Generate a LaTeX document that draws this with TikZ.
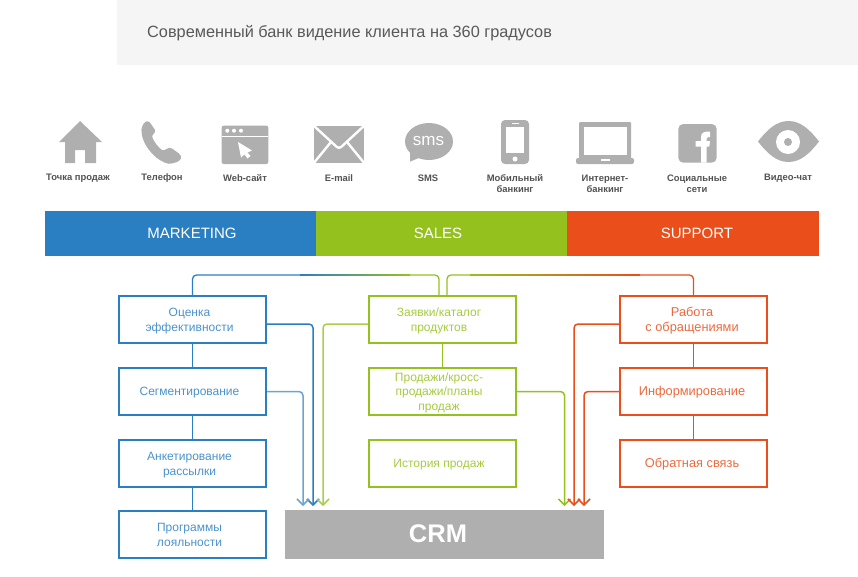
\documentclass[tikz,border=0pt]{standalone}
\usepackage{fontspec}
\setmainfont{Liberation Sans}
\usetikzlibrary{arrows.meta}
\definecolor{cblue}{HTML}{2A7FC2}
\definecolor{cgreen}{HTML}{95C11F}
\definecolor{corange}{HTML}{E94E1B}
\definecolor{cgrey}{HTML}{AFAFAF}
\definecolor{cband}{HTML}{F5F5F5}
\newcommand{\boxtext}[2]{\kern#1\raisebox{-1.5pt}[\height][\depth]{\begin{tabular}{@{}c@{}}#2\end{tabular}}}
\tikzset{
  box/.style={draw=#1,text=#1!85!white,line width=2pt,minimum width=147pt,minimum height=47pt,inner sep=0pt,font=\fontsize{12}{14.8}\selectfont},
  bigbox/.style={box=#1,font=\fontsize{12.8}{14.8}\selectfont},
  bar/.style={fill=#1,text=white,minimum height=45pt,inner sep=0pt,font=\fontsize{15}{18}\selectfont},
  iconcap/.style={text=black!68,inner sep=0pt,align=center,font=\fontsize{9.4}{11}\selectfont\bfseries},
  link/.style={draw=#1,line width=1.4pt},
  into/.style={draw=#1,line width=1.5pt,rounded corners=4pt,-{Straight Barb[length=6pt,width=12pt]}},
  over/.style={draw=#1,line width=1.3pt,rounded corners=4pt}
}
\begin{document}
\begin{tikzpicture}[x=1pt,y=-1pt]
\useasboundingbox (0,0) rectangle (858,576) ;
\fill[cband] (117,0) rectangle (858,65) ;
\node[anchor=west,text=black!65,inner sep=0pt,font=\fontsize{16.3}{18}\selectfont] (title) at (147,33) {Современный банк видение клиента на 360 градусов} ;
\fill[cgrey] (80,121) -- (102,142) -- (96,142) -- (96,163) -- (85,163) -- (85,150) -- (75,150) -- (75,163) -- (65,163) -- (65,142) -- (59,142) -- cycle ;
\fill[cgrey,rounded corners=1.5pt] (144.3,122.3) -- (148.3,120.7) -- (151.7,125) -- (155.7,131) -- (154.3,133.3) -- (151.7,135.7) .. controls (154,142) and (158,147) .. (163.3,151) -- (167.3,148.3) -- (171,147.7) -- (180,154.3) -- (181.7,157.7) -- (178.3,161.7) -- (170,164) .. controls (158,162) and (141,146) .. (141.5,128) -- cycle ;
\fill[cgrey,rounded corners=2pt] (221.7,125.7) rectangle (268.3,164) ;
\draw[white,line width=1pt] (221.7,136) -- (268.3,136) ;
\foreach \dotx in {227.3,234,241} { \fill[white] (\dotx,130.7) circle (2) ; }
\fill[white] (238,142) -- (252,150.5) -- (247.5,152.5) -- (250.5,156) -- (247.5,158.5) -- (244.5,154.5) -- (241,157.5) -- cycle ;
\fill[cgrey] (314,126) rectangle (364,163) ;
\draw[white,line width=2.4pt,rounded corners=3pt] (313,125) -- (339,149) -- (365,125) ;
\draw[white,line width=2.4pt] (313,164) -- (331,142) (365,164) -- (347,142) ;
\fill[cgrey] (429,141.5) ellipse (24 and 18.5) ;
\fill[cgrey] (410,152) -- (410,161.7) -- (421,157) -- cycle ;
\node[text=white,inner sep=0pt,font=\fontsize{17}{18}\selectfont] (smsword) at (428.5,141) {sms} ;
\fill[cgrey,rounded corners=4pt] (501,120) rectangle (529,164) ;
\fill[white] (506,127) rectangle (524,153) ;
\fill[white] (515,159) circle (2.5) ;
\draw[white,line width=.8pt] (512,123.3) -- (519,123.3) ;
\fill[cgrey,rounded corners=1pt] (579,122) rectangle (631,159) ;
\fill[white] (584,127) rectangle (627,155) ;
\fill[cgrey,rounded corners=2pt] (576,158) rectangle (634,164) ;
\fill[white] (601,159) rectangle (610,160.5) ;
\fill[cgrey,rounded corners=5pt] (678.3,124) rectangle (716.7,162.7) ;
\fill[white] (701,162.7) -- (701,146.5) -- (695.5,146.5) -- (695.5,141) -- (701,141) -- (701,137) .. controls (701,133) and (704,131.5) .. (708,131.5) -- (710,131.5) -- (710,137) -- (708,137) .. controls (707,137) and (706.7,137.5) .. (706.7,138.5) -- (706.7,141) -- (710,141) -- (709.3,146.5) -- (706.7,146.5) -- (706.7,162.7) -- cycle ;
\fill[cgrey] (758,141.5) .. controls (767,130) and (776,121) .. (788.5,121) .. controls (801,121) and (810,130) .. (819,141.5) .. controls (810,153) and (801,162) .. (788.5,162) .. controls (776,162) and (767,153) .. (758,141.5) -- cycle ;
\fill[white] (788,142) circle (12) ;
\fill[cgrey] (788,142) circle (4) ;
\node[iconcap] (c1) at (78,178) {Точка продаж} ;
\node[iconcap] (c2) at (162,178) {Телефон} ;
\node[iconcap] (c3) at (245,178) {Web-сайт} ;
\node[iconcap] (c4) at (339,178) {E-mail} ;
\node[iconcap] (c5) at (428,178) {SMS} ;
\node[iconcap] (c6) at (515,183.5) {Мобильный\\банкинг} ;
\node[iconcap] (c7) at (605,183.5) {Интернет-\\банкинг} ;
\node[iconcap] (c8) at (697,183.5) {Социальные\\сети} ;
\node[iconcap] (c9) at (788,178) {Видео-чат} ;
\node[bar=cblue,minimum width=271pt] (mark) at (180.5,233.5) {\boxtext{23pt}{MARKETING}} ;
\node[bar=cgreen,minimum width=251pt] (sale) at (441.5,233.5) {\boxtext{-7pt}{SALES}} ;
\node[bar=corange,minimum width=252pt] (supp) at (693,233.5) {\boxtext{8pt}{SUPPORT}} ;
\node[box=cblue] (b1) at (192.5,319.5) {\boxtext{-6pt}{Оценка\\эффективности}} ;
\node[box=cblue] (b2) at (192.5,391.5) {\boxtext{-6pt}{Сегментирование}} ;
\node[box=cblue] (b3) at (192.5,463.5) {\boxtext{-6pt}{Анкетирование\\рассылки}} ;
\node[box=cblue] (b4) at (192.5,534.5) {\boxtext{-6pt}{Программы\\лояльности}} ;
\node[box=cgreen] (g1) at (442.5,319.5) {\boxtext{-7pt}{Заявки/каталог\\продуктов}} ;
\node[box=cgreen] (g2) at (442.5,391.5) {\boxtext{-7pt}{Продажи/кросс-\\продажи/планы\\продаж}} ;
\node[box=cgreen] (g3) at (442.5,463.5) {\boxtext{-7pt}{История продаж}} ;
\node[bigbox=corange] (r1) at (693.5,319.5) {\boxtext{-3pt}{Работа\\с обращениями}} ;
\node[bigbox=corange] (r2) at (693.5,391.5) {\boxtext{-3pt}{Информирование}} ;
\node[bigbox=corange] (r3) at (693.5,463.5) {\boxtext{-3pt}{Обратная связь}} ;
\node[fill=cgrey,text=white,minimum width=319pt,minimum height=49pt,inner sep=0pt,font=\fontsize{25.5}{30}\selectfont\bfseries] (crm) at (444.5,534.5) {\boxtext{-13pt}{CRM}} ;
\coordinate (t1) at (303,506) ;
\coordinate (t2) at (313,506) ;
\coordinate (t3) at (323,506) ;
\coordinate (t4) at (564.5,506) ;
\coordinate (t5) at (574,506) ;
\coordinate (t6) at (584,506) ;
\coordinate (m1) at (300,275) ;
\coordinate (m2) at (410,275) ;
\coordinate (m3) at (470,275) ;
\coordinate (m4) at (640,275) ;
\draw[link=cblue,line width=1.8pt] (b1) to (b2) ;
\draw[link=cblue,line width=1.8pt] (b2) to (b3) ;
\draw[link=cblue,line width=1.8pt] (b3) to (b4) ;
\draw[link=cgreen,line width=1.2pt] (g1) to (g2) ;
\draw[link=corange,line width=1.2pt] (r1) to (r2) ;
\draw[link=corange,line width=1.2pt] (r2) to (r3) ;
\draw[into=cblue] ([yshift=-4.5pt]b1.east) -| (t2) ;
\draw[into=cblue!70!white] (b2.east) -| (t1) ;
\draw[into=cgreen!80!white] ([yshift=-4.5pt]g1.west) -| (t3) ;
\draw[into=cgreen] (g2.east) -| (t4) ;
\draw[into=corange] ([yshift=-4.5pt]r1.west) -| (t5) ;
\draw[into=corange] (r2.west) -| (t6) ;
\draw[over=cblue] (b1.north) |- (m1) ;
\shade[left color=cblue,middle color=cblue!40!cgreen!60!white,right color=cgreen] (300,274.35) rectangle (410,275.65) ;
\draw[over=cgreen] (m2) -| ([xshift=-3.5pt]g1.north) ;
\draw[over=cgreen] ([xshift=4.5pt]g1.north) |- (m3) ;
\shade[left color=cgreen,middle color=cgreen!40!corange!60!white,right color=corange] (470,274.35) rectangle (640,275.65) ;
\draw[over=corange] (m4) -| (r1.north) ;
\end{tikzpicture}
\end{document}
